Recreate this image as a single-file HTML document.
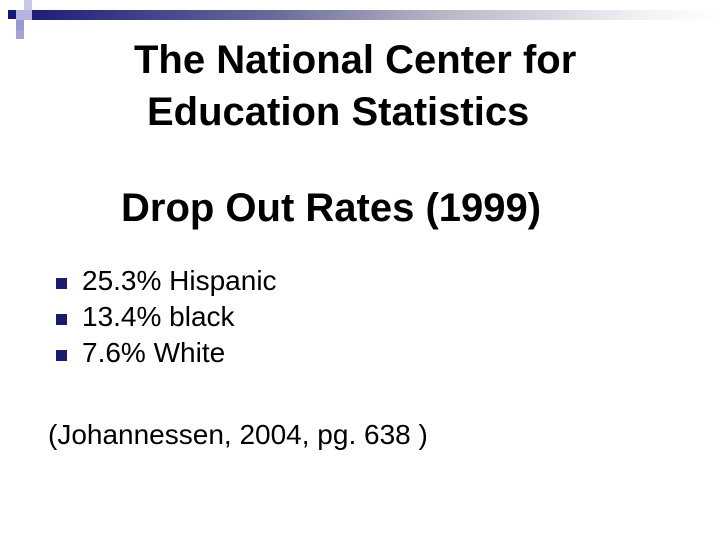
<!DOCTYPE html>
<html><head><meta charset="utf-8"><style>
body{margin:0;width:720px;height:540px;background:#fff;position:relative;overflow:hidden;font-family:"Liberation Sans",Arial,sans-serif;color:#000}
.abs{position:absolute}
.t{position:absolute;white-space:nowrap;line-height:1.15}
.b{font-weight:bold;font-size:40px}
.li{font-size:28px}
.bul{position:absolute;width:11px;height:11px;background:#1a1a6e}
</style></head><body>
<div class="abs" style="left:32px;top:10px;width:688px;height:10px;background:linear-gradient(to right,#1e1e7a,#6a6a9a 35%,#b8b8c8 60%,#f4f4f8 90%,#fff)"></div>
<div class="abs" style="left:8px;top:10px;width:8px;height:9px;background:#14147a"></div>
<div class="abs" style="left:24px;top:0;width:8px;height:10px;background:#c8c8e6"></div>
<div class="abs" style="left:16px;top:10px;width:16px;height:10px;background:#b4b4dc"></div>
<div class="abs" style="left:16px;top:20px;width:8px;height:10px;background:#9a9acc"></div>
<div class="abs" style="left:16px;top:30px;width:8px;height:9px;background:#a4a4d2"></div>

<div class="t b" style="left:134px;top:37px">The National Center for</div>
<div class="t b" style="left:147px;top:89px">Education Statistics</div>
<div class="t b" style="left:121px;top:185px">Drop Out Rates (1999)</div>

<div class="bul" style="left:56px;top:278px"></div>
<div class="t li" style="left:82px;top:265px">25.3% Hispanic</div>
<div class="bul" style="left:56px;top:314px"></div>
<div class="t li" style="left:82px;top:301px">13.4% black</div>
<div class="bul" style="left:56px;top:350px"></div>
<div class="t li" style="left:82px;top:337px">7.6% White</div>

<div class="t li" style="left:48px;top:419px">(Johannessen, 2004, pg. 638 )</div>
</body></html>
